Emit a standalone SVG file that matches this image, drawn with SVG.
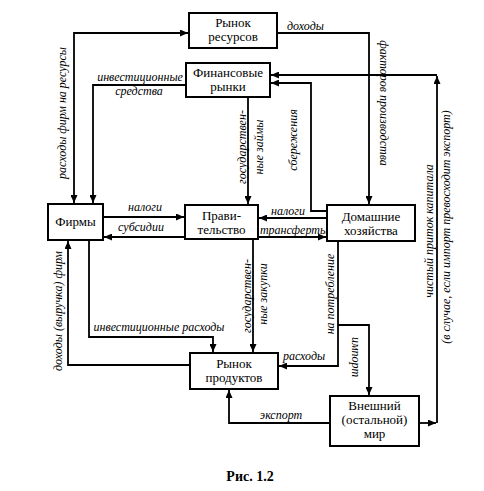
<svg xmlns="http://www.w3.org/2000/svg" width="484" height="491" viewBox="0 0 484 491">
<defs>
<style>
.box{fill:#fff;stroke:#000;stroke-width:2}
.bt{font-family:"Liberation Serif","Times New Roman",serif;font-size:13px;text-anchor:middle;fill:#000}
.lb{font-family:"Liberation Serif","Times New Roman",serif;font-size:12px;font-style:italic;fill:#000}
.m{text-anchor:middle}
.ln{fill:none;stroke:#000;stroke-width:1.8}
.cap{font-family:"Liberation Serif","Times New Roman",serif;font-size:14px;font-weight:bold;text-anchor:middle}
</style>
<marker id="a" viewBox="0 0 8 7" refX="8" refY="3.5" markerWidth="8" markerHeight="7" markerUnits="userSpaceOnUse" orient="auto-start-reverse"><path d="M0,0 L8,3.5 L0,7 z" fill="#000"/></marker>
</defs>
<rect width="484" height="491" fill="#fff"/>
<g id="connectors">
<path class="ln" d="M74,203 V33 H188" marker-start="url(#a)" marker-end="url(#a)"/>
<path class="ln" d="M186,85 H93 V203" marker-end="url(#a)"/>
<path class="ln" d="M277,33 H369 V204" marker-end="url(#a)"/>
<path class="ln" d="M248,97 V204" marker-end="url(#a)"/>
<path class="ln" d="M327,211 H311 V83 H271" marker-end="url(#a)"/>
<path class="ln" d="M419,423 H436" marker-end="url(#a)"/>
<path class="ln" d="M437,423 V76" marker-end="url(#a)"/>
<path class="ln" d="M437,75 H271" marker-end="url(#a)"/>
<path class="ln" d="M103,217 H184" marker-end="url(#a)"/>
<path class="ln" d="M185,237 H104" marker-end="url(#a)"/>
<path class="ln" d="M327,218 H259" marker-end="url(#a)"/>
<path class="ln" d="M258,237 H326" marker-end="url(#a)"/>
<path class="ln" d="M253,239 V352" marker-end="url(#a)"/>
<path class="ln" d="M89,240 V337 H213 V352" marker-end="url(#a)"/>
<path class="ln" d="M190,365 H68 V241" marker-end="url(#a)"/>
<path class="ln" d="M338,241 V366 H279" marker-end="url(#a)"/>
<path class="ln" d="M338,325 H369 V395" marker-end="url(#a)"/>
<path class="ln" d="M330,423 H229 V390" marker-end="url(#a)"/>
</g>
<g id="labels">
<text class="lb" x="287" y="30">доходы</text>
<text class="lb m" transform="translate(380,103) rotate(90)">факторов производства</text>
<text class="lb m" transform="translate(66,113) rotate(-90)">расходы фирм на ресурсы</text>
<text class="lb m" x="140" y="81">инвестиционные</text>
<text class="lb m" x="139" y="95">средства</text>
<text class="lb m" transform="translate(246,147) rotate(-90)">государствен-</text>
<text class="lb m" transform="translate(263,147) rotate(-90)">ные займы</text>
<text class="lb m" transform="translate(297,140) rotate(-90)">сбережения</text>
<text class="lb m" x="145" y="211">налоги</text>
<text class="lb m" x="141" y="231">субсидии</text>
<text class="lb m" x="288" y="215">налоги</text>
<text class="lb m" x="294" y="234">трансферты</text>
<text class="lb m" transform="translate(251,296) rotate(-90)">государствен-</text>
<text class="lb m" transform="translate(267,294) rotate(-90)">ные закупки</text>
<text class="lb m" transform="translate(334,294) rotate(-90)">на потребление</text>
<text class="lb m" transform="translate(352,357) rotate(90)">импорт</text>
<text class="lb m" x="304" y="360">расходы</text>
<text class="lb m" x="159" y="331">инвестиционные расходы</text>
<text class="lb m" transform="translate(62,311) rotate(-90)">доходы (выручка) фирм</text>
<text class="lb m" x="281" y="419">экспорт</text>
<text class="lb m" transform="translate(433,231) rotate(-90)">чистый приток капитала</text>
<text class="lb m" transform="translate(450,227) rotate(-90)">(в случае, если импорт превосходит экспорт)</text>
</g>
<g id="resource-market"><rect class="box" x="189" y="13" width="88" height="35"/><text class="bt" x="233" y="27">Рынок</text><text class="bt" x="233" y="41">ресурсов</text></g>
<g id="financial-markets"><rect class="box" x="186" y="63" width="84" height="34"/><text class="bt" x="228" y="77">Финансовые</text><text class="bt" x="228" y="91">рынки</text></g>
<g id="firms"><rect class="box" x="48" y="204" width="55" height="36"/><text class="bt" x="75.5" y="226">Фирмы</text></g>
<g id="government"><rect class="box" x="185" y="205" width="73" height="34"/><text class="bt" x="221.5" y="220">Прави-</text><text class="bt" x="221.5" y="234">тельство</text></g>
<g id="households"><rect class="box" x="327" y="205" width="88" height="36"/><text class="bt" x="371" y="221">Домашние</text><text class="bt" x="371" y="235">хозяйства</text></g>
<g id="product-market"><rect class="box" x="190" y="353" width="88" height="36"/><text class="bt" x="234" y="368">Рынок</text><text class="bt" x="234" y="382">продуктов</text></g>
<g id="rest-of-world"><rect class="box" x="330" y="396" width="89" height="50"/><text class="bt" x="374.5" y="410">Внешний</text><text class="bt" x="374.5" y="424">(остальной)</text><text class="bt" x="374.5" y="438">мир</text></g>
<text class="cap" x="250" y="481">Рис. 1.2</text>
</svg>
